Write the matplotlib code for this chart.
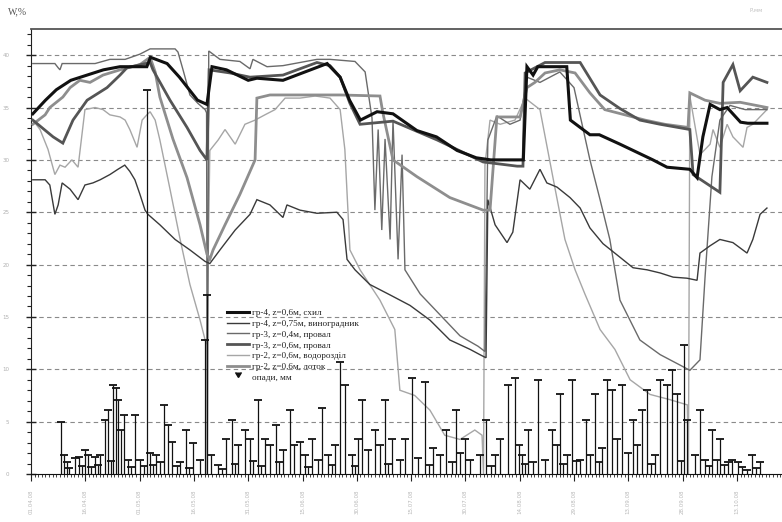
import matplotlib
matplotlib.use("Agg")
import matplotlib.pyplot as plt
from matplotlib.lines import Line2D
import numpy as np

# ---------------- data (day index, W %) ----------------
date_labels = ["01.04.08", "16.04.08", "01.05.08", "16.05.08", "31.05.08", "15.06.08",
               "30.06.08", "15.07.08", "30.07.08", "14.08.08", "29.08.08", "13.09.08",
               "28.09.08", "13.10.08"]
y_ticks = [0, 5, 10, 15, 20, 25, 30, 35, 40]

# gr-4, z=0.6 m, slope (thick black)
skhyl = [(0.5, 34.4), (4, 35.7), (7, 36.7), (11, 37.6), (15.5, 38.1), (20, 38.6), (24.6, 38.9),
         (30, 38.9), (32, 38.9), (33, 39.8), (37.6, 39.2), (41, 37.9), (46, 35.7), (48.6, 35.3),
         (50, 38.9), (54, 38.6), (60, 37.6), (62.4, 37.8), (69.6, 37.6), (81.8, 39.2), (85.4, 37.9),
         (88, 35.7), (91, 33.8), (95.6, 34.6), (100, 34.4), (106.6, 32.8), (112, 32.2), (117.7, 30.9),
         (123, 30.2), (127, 30.0), (136, 30.0), (137, 38.9), (138.7, 38.1), (140, 38.9), (148, 38.9),
         (149, 33.8), (154.4, 32.4), (157, 32.4), (162.7, 31.5), (171.8, 30.0), (175.7, 29.3),
         (182, 29.1), (184, 28.3), (185.6, 32.2), (187.6, 35.3), (190.3, 34.8), (192.3, 35.0),
         (196, 33.6), (198, 33.5), (203.3, 33.5)]

# gr-4, z=0.75 m, vineyard (thin dark)
vynohradnyk = [(0.5, 28.1), (3.9, 28.1), (5.2, 27.6), (6.6, 24.8), (7.5, 25.7), (8.6, 27.8),
               (10.8, 27.2), (13, 26.2), (14.9, 27.6), (17.1, 27.8), (19.1, 28.1), (21.8, 28.6),
               (24, 29.1), (25.9, 29.5), (27.3, 28.9), (28.7, 28.1), (30.1, 26.7), (31.5, 25.2),
               (32.3, 24.8), (35.6, 23.8), (39.8, 22.4), (43.9, 21.4), (48.1, 20.3), (49.4, 20.1),
               (52.2, 21.4), (56.4, 23.3), (60.5, 24.8), (62.4, 26.2), (66, 25.7), (69.6, 24.5),
               (70.7, 25.7), (74.3, 25.2), (79, 24.9), (84.5, 25.0), (86.2, 24.3), (87.3, 20.5),
               (89.5, 19.5), (93.6, 18.1), (99.2, 17.1), (104.7, 16.1), (110.2, 14.7), (115.7, 12.8),
               (121.3, 11.9), (124, 11.4), (125.7, 11.1), (126.2, 26.2), (128.2, 23.8), (131.5, 22.1),
               (133.1, 23.1), (135.1, 28.1), (137.8, 27.2), (140.6, 29.1), (142.5, 27.8), (145.3, 27.4),
               (148.9, 26.4), (151.7, 25.4), (154.4, 23.5), (158, 22.0), (162.7, 20.7), (166.3, 19.7),
               (170.2, 19.5), (173.8, 19.2), (177.4, 18.8), (181.2, 18.7), (184, 18.5), (184.8, 21.1),
               (187.6, 21.8), (190.3, 22.4), (193.9, 22.1), (197.8, 21.1), (199.4, 22.4), (201.4, 24.8),
               (203.3, 25.4)]

# gr-3, z=0.4 m, sinkhole (thin grey)
proval04 = [(0.5, 39.2), (6.6, 39.2), (7.5, 38.8), (8.0, 38.6), (8.6, 39.2), (17.7, 39.2),
            (21.8, 39.6), (26, 39.6), (30.1, 40.1), (32.9, 40.6), (37, 40.6), (39.8, 40.6),
            (40.6, 40.3), (42, 38.6), (43.9, 36.2), (46.1, 35.4), (48.1, 34.8), (48.5, 34.5),
            (48.7, 0.0), (49.1, 40.4), (52.2, 39.6), (57.7, 39.4), (60.5, 38.7), (61.3, 39.6),
            (65.2, 38.9), (69.6, 39.0), (79, 39.6), (82.6, 39.6), (89.5, 39.4), (92.3, 38.4),
            (94.2, 34.0), (95, 25.2), (95.9, 32.9), (96.9, 23.3), (97.8, 32.0), (99.2, 22.4),
            (100, 33.8), (101.4, 20.5), (102.5, 30.5), (103.3, 19.5), (107.5, 17.2), (113, 15.2),
            (118.5, 13.2), (123.5, 12.2), (125.4, 11.7), (126.2, 31.9), (128.7, 34.2), (132.3, 33.4),
            (135.1, 33.8), (137, 37.9), (140.6, 37.4), (146.1, 38.4), (150, 36.9), (154.4, 30.0),
            (157.2, 26.2), (159.9, 22.4), (162.7, 16.6), (168.2, 12.8), (173.8, 11.4), (179.3, 10.4),
            (182, 9.9), (184.8, 10.9), (186.2, 18.8), (188.1, 28.4), (190.3, 33.8), (193.1, 35.2),
            (197.3, 34.8), (203.3, 34.8)]

# gr-3, z=0.6 m, sinkhole (thick dark grey)
proval06 = [(0.5, 33.8), (6.1, 32.2), (8.8, 31.6), (11.6, 33.8), (15.5, 35.7), (21, 36.9),
            (24.6, 38.1), (26.5, 38.8), (32.9, 39.3), (33.7, 38.6), (38.4, 35.7), (43.1, 33.1),
            (46.7, 30.9), (48.6, 30.0), (49.2, 38.6), (55, 38.3), (60.5, 37.9), (69.6, 38.1),
            (79, 39.3), (82.6, 39.0), (85.4, 37.9), (88.1, 35.4), (90.9, 33.4), (100, 33.7),
            (112.2, 31.9), (124.9, 29.8), (134.3, 29.4), (135.9, 29.4), (136.5, 38.3), (142, 39.3),
            (151.7, 39.3), (157.2, 36.2), (162.7, 34.9), (168.2, 33.8), (173.8, 33.4), (182, 32.9),
            (182.9, 28.6), (190.3, 26.9), (191.2, 37.4), (193.9, 39.1), (195.9, 36.6), (199.4, 37.9),
            (203.3, 37.4)]

# gr-2, z=0.6 m, watershed (thin light grey)
vodorozdil = [(0.5, 33.8), (2.5, 32.9), (4.7, 31.0), (6.6, 28.6), (8, 29.5), (9.4, 29.3),
              (11.3, 30.0), (13, 29.3), (14.9, 34.8), (17.7, 35.0), (19.9, 34.8), (21.8, 34.3),
              (24.6, 34.1), (26, 33.8), (27.3, 32.9), (29.3, 31.2), (30.7, 33.8), (32, 34.3),
              (32.9, 34.6), (34.3, 33.8), (35.6, 31.9), (38.4, 27.2), (41.2, 22.4), (43.9, 18.1),
              (46.7, 14.7), (48.1, 12.8), (48.6, 12.4), (49.4, 30.9), (51.7, 31.9), (53.6, 32.9),
              (56.4, 31.5), (59.1, 33.4), (61.9, 33.8), (64.6, 34.3), (67.4, 34.8), (70.2, 35.9),
              (74.3, 35.9), (78.5, 36.1), (82.6, 35.9), (85.4, 34.8), (86.7, 31.0), (88.1, 21.4),
              (90.9, 19.5), (96.4, 16.6), (100.5, 13.8), (101.9, 8.0), (106, 7.5), (110.2, 6.1),
              (114.3, 3.7), (118.5, 3.3), (122.6, 4.2), (124.6, 3.7), (125.0, 0.0), (125.4, 29.5),
              (126.8, 33.8), (129.6, 33.4), (133.7, 33.8), (136.5, 35.9), (140.6, 34.8), (144.8, 27.2),
              (147.5, 22.4), (150.3, 19.5), (153, 17.2), (157.2, 13.8), (161.3, 11.9), (165.5, 9.0),
              (171, 7.6), (176.5, 7.1), (181.3, 6.6), (181.6, 0.0), (182, 36.1), (184.8, 30.5),
              (187.6, 31.5), (188.4, 32.9), (190.3, 31.2), (192.3, 33.4), (193.9, 32.2), (196.7, 31.2),
              (197.8, 33.1), (199.4, 33.4), (203.3, 34.8)]

# gr-2, z=0.6 m, trough (thick grey)
lotok = [(0.5, 33.4), (3.9, 34.3), (5.2, 35.0), (8.8, 36.0), (10.8, 36.9), (13.5, 37.6),
         (16.3, 37.4), (19.9, 38.1), (24.6, 38.6), (30.1, 39.1), (32.9, 39.8), (34.3, 38.4),
         (35.6, 36.0), (39.2, 32.0), (43.1, 28.3), (46.7, 23.8), (48.6, 21.0), (49.4, 20.5),
         (50.3, 21.4), (53.6, 23.8), (57.7, 26.7), (61.9, 30.0), (62.4, 35.9), (66, 36.2),
         (74.3, 36.2), (85.4, 36.2), (96.4, 36.1), (97.2, 34.5), (100, 30.0), (106.6, 28.4),
         (115.7, 26.4), (124.9, 25.2), (126.8, 25.2), (128.7, 34.1), (132.3, 34.1), (135.1, 34.1),
         (137, 36.9), (139.2, 37.4), (142, 38.3), (146.1, 38.6), (150.3, 38.3), (154.4, 36.4),
         (158.5, 34.8), (164.1, 34.3), (169.6, 33.8), (175.1, 33.4), (181.5, 33.1), (182, 36.4),
         (186.2, 35.7), (190.3, 35.4), (195.9, 35.5), (203.3, 35.0)]

# precipitation, mm (day index, value)
precip_day = [8.3, 9.1, 9.9, 10.6, 12.2, 13.3, 14.1, 14.9, 15.7, 16.5, 17.7, 18.4, 19.1, 20.4,
              21.3, 22.0, 22.7, 23.5, 24.0, 24.9, 25.7, 26.8, 27.5, 28.7, 30.1, 31.2, 32.0, 32.9,
              33.6, 34.5, 35.6, 36.7, 37.8, 39.0, 40.2, 41.2, 42.8, 43.7, 44.8, 46.7, 48.1, 48.6,
              49.7, 51.7, 52.8, 53.9, 55.5, 56.3, 57.2, 59.1, 60.5, 61.4, 62.7, 63.6, 64.6, 66.0,
              67.7, 68.5, 69.6, 71.5, 72.7, 74.3, 75.7, 76.5, 77.6, 79.3, 80.4, 82.0, 83.1, 84.0,
              85.4, 86.7, 88.7, 89.5, 90.3, 91.4, 93.1, 95.0, 96.4, 97.8, 98.6, 99.7, 101.9, 103.3,
              105.2, 106.9, 108.8, 110.0, 111.0, 113.0, 114.6, 116.3, 117.4, 118.5, 119.9, 121.3,
              124.0, 125.7, 127.0, 128.2, 129.6, 131.8, 133.7, 134.8, 135.6, 136.5, 137.3, 138.7,
              140.1, 142.0, 143.9, 145.3, 146.1, 147.0, 148.1, 149.4, 150.5, 151.7, 153.3, 154.4,
              155.8, 156.8, 157.7, 159.1, 160.5, 161.9, 163.3, 164.9, 166.3, 167.4, 168.8, 170.2,
              171.3, 172.4, 173.8, 175.7, 177.1, 178.5, 179.5, 180.4, 181.2, 183.4, 184.8, 186.2,
              187.2, 188.1, 189.5, 190.3, 191.4, 192.5, 193.6, 195.3, 196.5, 197.8, 199.2, 200.3,
              201.4]
precip_mm = [5.0, 1.8, 1.1, 0.6, 1.5, 1.6, 0.8, 2.3, 1.8, 0.7, 1.6, 0.9, 1.8, 5.2,
             6.1, 1.2, 8.5, 8.2, 7.1, 4.2, 5.6, 1.3, 0.7, 5.6, 1.3, 0.8, 36.7, 2.0,
             0.9, 1.8, 1.1, 6.6, 4.7, 3.1, 0.8, 1.1, 4.2, 0.6, 3.0, 1.3, 12.8, 17.1,
             1.8, 0.9, 0.5, 3.3, 5.2, 1.0, 2.8, 4.2, 3.3, 1.2, 7.1, 0.8, 3.3, 2.8,
             4.7, 1.1, 2.3, 6.1, 2.8, 3.1, 1.8, 0.7, 3.3, 1.3, 6.3, 1.8, 0.9, 2.8,
             10.7, 8.5, 1.8, 0.8, 3.3, 7.1, 2.3, 4.2, 2.8, 7.1, 1.0, 3.3, 1.3, 3.3,
             9.2, 1.5, 8.8, 0.9, 2.5, 1.8, 4.2, 1.1, 6.1, 2.0, 3.3, 1.3,
             1.8, 5.2, 0.8, 1.8, 3.3, 8.5, 9.2, 2.8, 1.8, 1.0, 4.2, 1.1,
             9.0, 1.3, 4.2, 2.8, 7.6, 1.0, 1.8, 9.0, 1.2, 1.3, 5.2, 1.8,
             7.6, 1.1, 2.5, 9.0, 8.0, 3.3, 8.5, 2.0, 5.2, 2.8, 6.1, 8.0,
             1.0, 1.8, 9.0, 8.5, 9.9, 7.6, 1.2, 12.3, 5.2, 1.8, 6.1, 1.3,
             0.8, 4.2, 1.3, 3.3, 0.9, 1.1, 1.3, 1.1, 0.7, 0.4, 1.8, 0.6,
             1.1]

labels = ["гр-4, z=0,6м, схил", "гр-4, z=0,75м, виноградник", "гр-3, z=0,4м, провал",
          "гр-3, z=0,6м, провал", "гр-2, z=0,6м, водороздiл", "гр-2, z=0,6м, лоток",
          "опади, мм"]

# ---------------- figure ----------------
W, H = 782, 522
fig = plt.figure(figsize=(W / 100, H / 100), dpi=100)
x_max = 212.0
ax = fig.add_axes([31 / W, (H - 474) / H, (x_max * 3.62) / W, 445 / H])
ax.set_xlim(0, x_max)
ax.set_ylim(0, 42.5)

for yv in y_ticks[1:]:
    ax.axhline(yv, color="#8a8a8a", lw=0.8, ls=(0, (4, 3)), zorder=0)

def draw(series, color, lw, z):
    d = [p[0] for p in series]
    v = [p[1] for p in series]
    return ax.plot(d, v, color=color, lw=lw, zorder=z, solid_joinstyle="miter")[0]

h1 = draw(skhyl, "#111111", 2.2, 6)
h2 = draw(vynohradnyk, "#3a3a3a", 1.0, 4)
h3 = draw(proval04, "#6a6a6a", 1.0, 3)
h4 = draw(proval06, "#555555", 2.0, 5)
h5 = draw(vodorozdil, "#a6a6a6", 1.0, 2)
h6 = draw(lotok, "#8e8e8e", 2.0, 4)

ax.vlines(precip_day, 0, precip_mm, color="#111111", lw=0.9, zorder=7)
ax.plot(precip_day, precip_mm, ls="none", marker="_", ms=6, mew=1.3, color="#111111", zorder=7)
h7 = Line2D([], [], ls="none", marker=7, ms=5, color="#111111")

# spines
ax.spines["right"].set_visible(False)
ax.spines["top"].set_color("#555555")
ax.spines["top"].set_linewidth(1.3)
ax.spines["left"].set_color("#222222")
ax.spines["bottom"].set_color("#111111")

# ticks
ax.set_yticks(y_ticks)
ax.set_yticklabels([str(v) for v in y_ticks], fontsize=4)
ax.set_yticks(np.arange(0, 42.5, 1), minor=True)
ax.tick_params(axis="y", which="major", direction="inout", length=7, width=1, pad=12, colors="#222222",
               labelcolor="#b0b0b0")
ax.tick_params(axis="y", which="minor", direction="out", length=3, width=0.8, colors="#222222")

ax.set_xticks(np.arange(0, 15 * len(date_labels), 15))
ax.set_xticklabels(date_labels, rotation=90, fontsize=4)
ax.set_xticks(np.arange(0, x_max, 1), minor=True)
ax.tick_params(axis="x", which="major", direction="out", length=5, width=0.8, pad=6, colors="#222222",
               labelcolor="#b8b8b8")
ax.tick_params(axis="x", which="minor", direction="out", length=2.5, width=0.6, colors="#222222")

fig.text(8 / W, 1 - 14 / H, "W,%", fontsize=7, family="Liberation Serif", color="#555555")
fig.text(750 / W, 1 - 12 / H, "P,мм", fontsize=4, color="#c0c0c0")

leg = ax.legend([h1, h2, h3, h4, h5, h6, h7], labels, loc="upper left",
                bbox_to_anchor=((221 - 31) / (x_max * 3.62), (474 - 302) / 445),
                frameon=False, handlelength=2.4, handletextpad=0.3,
                labelspacing=0.27, borderpad=0.2, prop={"family": "Liberation Serif", "size": 6.6})
for t in leg.get_texts():
    t.set_color("#222222")
leg.set_zorder(10)

fig.savefig("out.png", dpi=100)
